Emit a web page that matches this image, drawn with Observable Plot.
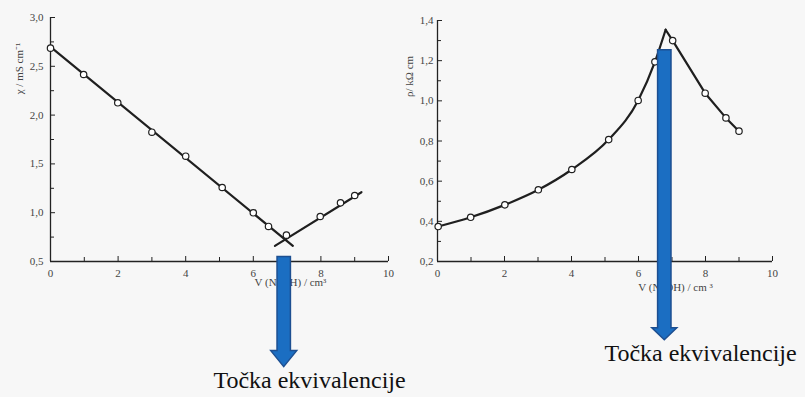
<!DOCTYPE html>
<html>
<head>
<meta charset="utf-8">
<script src="https://cdn.jsdelivr.net/npm/d3@7"></script>
<script src="https://cdn.jsdelivr.net/npm/@observablehq/plot@0.6"></script>
<style>
  html, body { margin: 0; padding: 0; background: #f7f7f7; }
  #wrap { position: relative; width: 805px; height: 397px; overflow: hidden; }
  #left { position: absolute; left: 0; top: 0; }
  #right { position: absolute; left: 395px; top: 0; }
  svg { overflow: visible; }
  svg, svg text { font-family: "Liberation Serif", "Times New Roman", serif !important; }
</style>
</head>
<body>
<div id="wrap"><div id="left"></div><div id="right"></div></div>
<script>
// ---- Left chart: conductivity χ vs V(NaOH)
const volumeK = [0, 0.98, 1.99, 3.0, 4.0, 5.08, 6.0, 6.45, 6.98, 7.98, 8.58, 9.0];
const kappa   = [2.686, 2.416, 2.126, 1.825, 1.579, 1.258, 0.999, 0.859, 0.77, 0.961, 1.101, 1.176];
// fitted straight lines (drawn segments)
const fitDownV = [0, 7.17], fitDownK = [2.70, 0.66];
const fitUpV   = [6.64, 9.2], fitUpK   = [0.66, 1.21];

// ---- Right chart: resistivity ρ vs V(NaOH)
const volumeR = [0.02, 0.99, 2.01, 3.01, 4.01, 5.11, 5.99, 6.49, 7.02, 7.99, 8.61, 9.0];
const rho     = [0.374, 0.42, 0.482, 0.557, 0.658, 0.807, 1.002, 1.194, 1.30, 1.038, 0.915, 0.849];
const rhoPeakV = 6.81, rhoPeak = 1.354;

// ---- axis ticks
const xMajor = [0, 2, 4, 6, 8, 10];
const xMinor = [1, 3, 5, 7, 9];
const kMajor = [0.5, 1.0, 1.5, 2.0, 2.5, 3.0];
const kMinor = [0.75, 1.25, 1.75, 2.25, 2.75];
const rMajor = [0.2, 0.4, 0.6, 0.8, 1.0, 1.2, 1.4];
const rMinor = [0.3, 0.5, 0.7, 0.9, 1.1, 1.3];

// ---- labels & annotations
const xLabelK = "V (NaOH) / cm³";
const yLabelK = "χ / mS cm⁻¹";
const xLabelR = "V (NaOH) / cm ³";
const yLabelR = "ρ/ kΩ cm";
const annotation = "Točka ekvivalencije";
const arrowV   = [6.9, 6.77];   // equivalence-point volume marked by arrows
const arrowTop = [0.55, 1.254]; // arrow start (in each chart's y units)

const comma = d => d.toFixed(1).replace(".", ",");
const font = "Liberation Serif";

function arrowSymbol(len, bodyHalf, headHalf, headLen) {
  return {
    draw(ctx) {
      ctx.moveTo(-bodyHalf, 0);
      ctx.lineTo(bodyHalf, 0);
      ctx.lineTo(bodyHalf, len - headLen);
      ctx.lineTo(headHalf, len - headLen);
      ctx.lineTo(0, len);
      ctx.lineTo(-headHalf, len - headLen);
      ctx.lineTo(-bodyHalf, len - headLen);
      ctx.closePath();
    }
  };
}

const lineStyle = {stroke: "#1f1f1f", strokeWidth: 2.2};
const dotStyle = {r: 3.2, fill: "white", stroke: "#1f1f1f", strokeWidth: 1.2};
const axisStyle = {fontSize: 11, fill: "#444"};
const labelStyle = {fontSize: 11, fill: "#444", fontFamily: font, textAnchor: "middle"};
const noteStyle = {fontSize: 24, fill: "#111", fontFamily: font, textAnchor: "middle"};

const ptsK = volumeK.map((v, i) => ({v, y: kappa[i]}));
const downK = fitDownV.map((v, i) => ({v, y: fitDownK[i]}));
const upK = fitUpV.map((v, i) => ({v, y: fitUpK[i]}));

const left = Plot.plot({
  width: 395, height: 397,
  marginLeft: 50, marginRight: 7, marginTop: 17, marginBottom: 136,
  style: {background: "transparent", color: "#333"},
  x: {domain: [0, 10]},
  y: {domain: [0.5, 3.0]},
  marks: [
    Plot.ruleX([0], {stroke: "#222", strokeWidth: 1.3}),
    Plot.ruleY([0.5], {stroke: "#222", strokeWidth: 1.3}),
    Plot.axisX(xMinor, {tickSize: -4, tickFormat: () => "", label: null, stroke: "#222"}),
    Plot.axisX(xMajor, {tickSize: -5, tickPadding: 13, tickFormat: d => String(d), label: null, stroke: "#222", ...axisStyle}),
    Plot.axisY(kMinor, {tickSize: -4, tickFormat: () => "", label: null, stroke: "#222"}),
    Plot.axisY(kMajor, {tickSize: -5, tickPadding: 12, tickFormat: comma, label: null, stroke: "#222", ...axisStyle}),
    Plot.line(downK, {x: "v", y: "y", ...lineStyle}),
    Plot.line(upK, {x: "v", y: "y", ...lineStyle}),
    Plot.dot(ptsK, {x: "v", y: "y", ...dotStyle}),
    Plot.text([xLabelK], {text: d => d, frameAnchor: "bottom-left", dx: 240, dy: 24, ...labelStyle}),
    Plot.text([yLabelK], {text: d => d, frameAnchor: "top-left", dx: -35, dy: 51, rotate: -90, ...labelStyle}),
    Plot.dot([0], {x: () => arrowV[0], y: () => arrowTop[0], symbol: arrowSymbol(110, 6.7, 13, 16), r: 5, fill: "#1b6ec2", stroke: "#1d4f91", strokeWidth: 1.5}),
    Plot.text([annotation], {text: d => d, frameAnchor: "bottom-left", dx: 259, dy: 126, ...noteStyle})
  ]
});
document.getElementById("left").appendChild(left);

const ptsR = volumeR.map((v, i) => ({v, y: rho[i]}));
const peak = {v: rhoPeakV, y: rhoPeak};
const riseR = [...ptsR.filter(d => d.v < rhoPeakV), peak];
const fallR = [peak, ...ptsR.filter(d => d.v > rhoPeakV)];

const right = Plot.plot({
  width: 410, height: 397,
  marginLeft: 42, marginRight: 33, marginTop: 20, marginBottom: 136,
  style: {background: "transparent", color: "#333"},
  x: {domain: [0, 10]},
  y: {domain: [0.2, 1.4]},
  marks: [
    Plot.ruleX([0], {stroke: "#222", strokeWidth: 1.3}),
    Plot.ruleY([0.2], {stroke: "#222", strokeWidth: 1.3}),
    Plot.axisX(xMinor, {tickSize: -4, tickFormat: () => "", label: null, stroke: "#222"}),
    Plot.axisX(xMajor, {tickSize: -5, tickPadding: 13, tickFormat: d => String(d), label: null, stroke: "#222", ...axisStyle}),
    Plot.axisY(rMinor, {tickSize: -4, tickFormat: () => "", label: null, stroke: "#222"}),
    Plot.axisY(rMajor, {tickSize: -5, tickPadding: 9, tickFormat: comma, label: null, stroke: "#222", ...axisStyle}),
    Plot.line(riseR, {x: "v", y: "y", curve: "monotone-x", ...lineStyle}),
    Plot.line(fallR, {x: "v", y: "y", curve: "linear", strokeLinejoin: "round", ...lineStyle}),
    Plot.dot(ptsR, {x: "v", y: "y", ...dotStyle}),
    Plot.text([xLabelR], {text: d => d, frameAnchor: "bottom-left", dx: 238, dy: 29, ...labelStyle}),
    Plot.text([yLabelR], {text: d => d, frameAnchor: "top-left", dx: -32, dy: 56, rotate: -90, ...labelStyle}),
    Plot.dot([0], {x: () => arrowV[1], y: () => arrowTop[1], symbol: arrowSymbol(290, 6.7, 12.5, 12), r: 5, fill: "#1b6ec2", stroke: "#1d4f91", strokeWidth: 1.5}),
    Plot.text([annotation], {text: d => d, frameAnchor: "bottom-left", dx: 263, dy: 99, ...noteStyle})
  ]
});
document.getElementById("right").appendChild(right);
</script>
</body>
</html>
